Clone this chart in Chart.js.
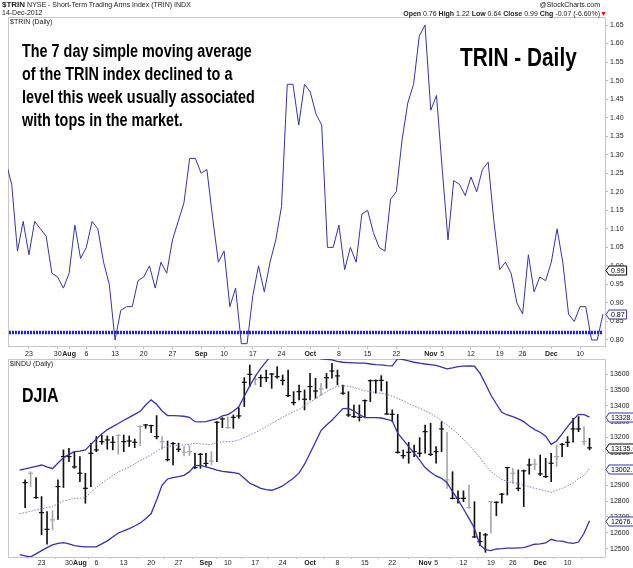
<!DOCTYPE html>
<html>
<head>
<meta charset="utf-8">
<script src="https://cdn.jsdelivr.net/npm/chart.js@4.4.1/dist/chart.umd.min.js"></script>
<style>
  body { margin: 0; background: #fff; width: 633px; height: 568px; overflow: hidden; position: relative;
         font-family: "Liberation Sans", Arial, sans-serif; }
  canvas { position: absolute; left: 0; }
  #trinChart { top: 0; }
  #djiaChart { top: 346px; }
  .txt { position: absolute; white-space: nowrap; color: #000; }
  .small { font-size: 7px; color: #222; }
  .note { font-family: "Liberation Sans", Arial, sans-serif; font-weight: bold;
          transform: scaleX(0.8); transform-origin: 0 0; }
</style>
</head>
<body>
<canvas id="trinChart" width="633" height="360"></canvas>
<canvas id="djiaChart" width="633" height="222"></canvas>

<div class="txt small" style="left:2px;top:0px"><b style="font-size:8px">$TRIN</b> NYSE - Short-Term Trading Arms Index (TRIN) INDX</div>
<div class="txt small" style="left:2px;top:9px">14-Dec-2012</div>
<div class="txt small" style="right:33px;top:1px">@StockCharts.com</div>
<div class="txt small" style="right:26px;top:10px"><b>Open</b> 0.76 <b>High</b> 1.22 <b>Low</b> 0.64 <b>Close</b> 0.99 <b>Chg</b> -0.07 (-6.60%)<span style="color:#d00">&#9660;</span></div>
<div class="txt small" style="left:10px;top:18px">$TRIN (Daily)</div>
<div class="txt small" style="left:10px;top:360px">$INDU (Daily)</div>

<div class="txt note" style="left:22px;top:40px;font-size:18px;line-height:23px">
The 7 day simple moving average<br>of the TRIN index declined to a<br>level this week usually associated<br>with tops in the market.</div>
<div class="txt note" style="left:460px;top:42px;font-size:26px">TRIN - Daily</div>
<div class="txt note" style="left:22px;top:384px;font-size:20px">DJIA</div>

<script>
// trading days shown (Jul 17 sits just off the left edge)
const dates = [
  'Jul 17','Jul 18','Jul 19','Jul 20','Jul 23','Jul 24','Jul 25','Jul 26','Jul 27','Jul 30','Jul 31',
  'Aug 1','Aug 2','Aug 3','Aug 6','Aug 7','Aug 8','Aug 9','Aug 10','Aug 13','Aug 14','Aug 15','Aug 16','Aug 17',
  'Aug 20','Aug 21','Aug 22','Aug 23','Aug 24','Aug 27','Aug 28','Aug 29','Aug 30','Aug 31',
  'Sep 4','Sep 5','Sep 6','Sep 7','Sep 10','Sep 11','Sep 12','Sep 13','Sep 14','Sep 17','Sep 18','Sep 19',
  'Sep 20','Sep 21','Sep 24','Sep 25','Sep 26','Sep 27','Sep 28',
  'Oct 1','Oct 2','Oct 3','Oct 4','Oct 5','Oct 8','Oct 9','Oct 10','Oct 11','Oct 12','Oct 15','Oct 16',
  'Oct 17','Oct 18','Oct 19','Oct 22','Oct 23','Oct 24','Oct 25','Oct 26','Oct 31',
  'Nov 1','Nov 2','Nov 5','Nov 6','Nov 7','Nov 8','Nov 9','Nov 12','Nov 13','Nov 14','Nov 15','Nov 16',
  'Nov 19','Nov 20','Nov 21','Nov 23','Nov 26','Nov 27','Nov 28','Nov 29','Nov 30',
  'Dec 3','Dec 4','Dec 5','Dec 6','Dec 7','Dec 10','Dec 11','Dec 12','Dec 13','Dec 14'
];

// x axis labels
const tickDates = ['Jul 23','Jul 30','Aug 1','Aug 6','Aug 13','Aug 20','Aug 27','Sep 4','Sep 10','Sep 17','Sep 24',
  'Oct 1','Oct 8','Oct 15','Oct 22','Nov 1','Nov 5','Nov 12','Nov 19','Nov 26','Dec 3','Dec 10'];
const tickText = ['23','30','Aug','6','13','20','27','Sep','10','17','24',
  'Oct','8','15','22','Nov','5','12','19','26','Dec','10'];
const monthText = ['Aug','Sep','Oct','Nov','Dec'];

// TRIN (7 day SMA)
const trin = [
  1.28, 1.22, 1.04, 1.12, 1.03, 1.12, 1.10, 1.08, 0.98, 0.97, 0.94,
  0.98, 1.11, 1.02, 1.05, 1.12, 1.10, 1.01, 0.95, 0.80, 0.88, 0.89, 0.89, 0.96,
  0.97, 1.00, 0.94, 1.01, 0.98, 1.07, 1.12, 1.17, 1.29, 1.29,
  1.25, 1.26, 1.13, 1.01, 1.04, 0.89, 0.94, 0.79, 0.79, 0.92, 1.00, 0.93,
  1.01, 1.07, 1.16, 1.49, 1.49, 1.38, 1.49,
  1.47, 1.41, 1.38, 1.05, 1.05, 1.11, 0.99, 1.05, 1.01, 1.14, 1.15, 1.09,
  1.05, 1.04, 1.18, 1.20, 1.34, 1.44, 1.49, 1.62, 1.65,
  1.42, 1.46, 1.26, 1.07, 1.23, 1.22, 1.19, 1.24, 1.20, 1.26, 1.28, 1.12,
  0.99, 1.01, 0.98, 0.90, 0.87, 1.03, 0.93, 0.97, 0.96,
  1.01, 1.10, 1.01, 0.87, 0.85, 0.89, 0.89, 0.80, 0.80, 0.87
];
const trinSignal = 0.82;
const trinClose = 0.99;
const trinTicks = [0.80, 0.85, 0.90, 0.95, 1.00, 1.05, 1.10, 1.15, 1.20, 1.25, 1.30, 1.35, 1.40, 1.45, 1.50, 1.55, 1.60, 1.65];

// DJIA daily bars
const djiaHigh = [
  null, 12933, 12985, 12948, 12828, 12733, 12740, 12933, 13122, 13132, 13111,
  13080, 12975, 13164, 13206, 13216, 13210, 13206, 13216, 13216, 13210, 13191, 13275, 13283,
  13279, 13338, 13206, 13178, 13170, 13164, 13143, 13149, 13101, 13101,
  13101, 13111, 13300, 13325, 13331, 13342, 13388, 13577, 13657, 13594, 13594, 13625,
  13604, 13646, 13594, 13625, 13489, 13531, 13500,
  13604, 13573, 13542, 13604, 13667, 13625, 13531, 13489, 13405, 13405, 13437, 13563,
  13563, 13590, 13552, 13374, 13346, 13122, 13170, 13153, 13199,
  13279, 13290, 13143, 13300, 13233, 12985, 12864, 12864, 12901, 12796, 12603, 12597,
  12796, 12796, 12849, 13011, 13006, 12996, 12996, 13065, 13065,
  13090, 13069, 13101, 13153, 13164, 13206, 13321, 13332, 13269, 13195
];
const djiaLow = [
  null, 12759, 12891, 12817, 12587, 12528, 12618, 12685, 12885, 13048, 13006,
  12922, 12786, 12891, 13111, 13157, 13126, 13122, 13095, 13111, 13143, 13136, 13149, 13258,
  13231, 13191, 13126, 13052, 13027, 13111, 13084, 13086, 13006, 13006,
  13016, 13027, 13048, 13262, 13258, 13258, 13321, 13395, 13520, 13531, 13520, 13552,
  13510, 13573, 13531, 13458, 13405, 13437, 13374,
  13437, 13447, 13464, 13510, 13573, 13531, 13472, 13332, 13325, 13304, 13325, 13426,
  13479, 13493, 13346, 13300, 13101, 13069, 13038, 13080, 13080,
  13101, 13086, 13038, 13111, 12880, 12813, 12786, 12796, 12754, 12570, 12519, 12477,
  12597, 12708, 12786, 12838, 12912, 12864, 12765, 12969, 12996,
  12960, 12948, 12922, 13017, 13080, 13143, 13170, 13237, 13153, 13122
];
const djiaClose = [
  null, 12916, 12975, 12822, 12727, 12622, 12681, 12891, 13080, 13080, 13015,
  12975, 12880, 13101, 13122, 13174, 13185, 13170, 13214, 13174, 13178, 13170, 13269, 13279,
  13275, 13206, 13174, 13061, 13162, 13126, 13107, 13111, 13010, 13094,
  13037, 13052, 13296, 13317, 13262, 13327, 13336, 13548, 13598, 13567, 13577, 13577,
  13600, 13583, 13560, 13464, 13420, 13489, 13441,
  13521, 13493, 13506, 13577, 13619, 13588, 13479, 13342, 13332, 13327, 13432, 13558,
  13558, 13560, 13348, 13346, 13107, 13086, 13107, 13111, 13101,
  13237, 13094, 13111, 13254, 12933, 12817, 12817, 12817, 12759, 12574, 12545, 12587,
  12796, 12792, 12843, 13011, 12975, 12880, 12990, 13027, 13032,
  12971, 12954, 13038, 13080, 13157, 13170, 13254, 13254, 13174, 13135.01
];

// Bollinger bands (20,2)
const bbUpper = [
  12995, 13002, 13011, 13019, 13027, 13015, 13004, 13040, 13073, 13094, 13111,
  13115, 13122, 13157, 13191, 13223, 13250, 13269, 13288, 13309, 13327, 13346, 13365, 13405,
  13437, 13409, 13367, 13338, 13338, 13336, 13334, 13327, 13300, 13298,
  13300, 13309, 13317, 13336, 13344, 13365, 13393, 13460, 13525, 13584, 13636, 13678,
  13720, 13750, 13770, 13780, 13780, 13770, 13755,
  13735, 13712, 13695, 13693, 13689, 13680, 13674, 13672, 13670, 13668, 13668, 13663,
  13659, 13657, 13653, 13651, 13697, 13691, 13682, 13674, 13668,
  13663, 13659, 13655, 13644, 13632, 13638, 13647, 13649, 13651, 13649, 13605, 13539,
  13468, 13411, 13359, 13342, 13332, 13317, 13300, 13273, 13250,
  13233, 13208, 13157, 13178, 13223, 13269, 13311, 13346, 13344, 13328.63
];
const bbMiddle = [
  12720, 12727, 12736, 12744, 12750, 12759, 12765, 12784, 12801, 12809, 12817,
  12817, 12822, 12855, 12887, 12912, 12937, 12960, 12983, 12998, 13013, 13034, 13055, 13073,
  13090, 13115, 13136, 13143, 13149, 13151, 13153, 13157, 13164, 13160,
  13157, 13155, 13170, 13172, 13174, 13176, 13185, 13199, 13216, 13231, 13248, 13269,
  13290, 13309, 13327, 13346, 13363, 13378, 13401,
  13422, 13445, 13468, 13489, 13508, 13521, 13527, 13523, 13516, 13504, 13495, 13489,
  13483, 13479, 13472, 13460, 13447, 13432, 13414, 13397, 13384,
  13369, 13351, 13330, 13307, 13279, 13252, 13223, 13187, 13151, 13115, 13073, 13027,
  12985, 12960, 12935, 12922, 12916, 12910, 12899, 12891, 12880,
  12872, 12864, 12855, 12868, 12880, 12895, 12912, 12941, 12960, 13002.39
];
const bbLower = [
  12462, 12454, 12448, 12467, 12488, 12507, 12524, 12534, 12538, 12530, 12519,
  12515, 12511, 12511, 12511, 12530, 12549, 12574, 12599, 12612, 12626, 12643, 12662, 12689,
  12721, 12807, 12901, 12939, 12948, 12954, 12962, 12985, 13023, 13025,
  13015, 13006, 12994, 12987, 12983, 12979, 12973, 12943, 12912, 12897, 12880, 12872,
  12868, 12880, 12895, 12920, 12945, 12977, 13032,
  13101, 13172, 13244, 13279, 13309, 13346, 13382, 13384, 13367, 13344, 13325, 13325,
  13325, 13323, 13315, 13306, 13227, 13185, 13143, 13103, 13057,
  13011, 12981, 12958, 12943, 12916, 12859, 12809, 12750, 12691, 12629, 12524, 12494,
  12488, 12498, 12500, 12503, 12503, 12505, 12507, 12517, 12528,
  12530, 12536, 12559, 12549, 12547, 12538, 12534, 12542, 12597, 12676.16
];
const djiaTicks = [12500, 12600, 12700, 12800, 12900, 13000, 13100, 13200, 13300, 13400, 13500, 13600];

// bars drawn in light grey
const lightBars = ['Jul 19','Jul 25','Aug 10','Aug 16','Aug 22','Aug 28','Aug 29','Sep 5','Sep 10','Sep 17',
  'Oct 3','Nov 7','Nov 13','Nov 19','Nov 26','Nov 30','Dec 6','Dec 13'];

const FONT = 'Liberation Sans';
const BAND = '#3434a4';

const pts = arr => arr.map((v, i) => ({ x: i, y: v }));

function xAxis(height, tickLen, pad) {
  return {
    type: 'linear', min: 0.355, max: 104.35,
    afterBuildTicks: s => { s.ticks = tickDates.map(d => ({ value: dates.indexOf(d) })); },
    afterFit: s => { s.height = height; },
    ticks: {
      autoSkip: false, maxRotation: 0, padding: pad, color: '#222',
      callback: v => tickText[tickDates.indexOf(dates[v])],
      font: c => ({ family: FONT, size: 7,
        weight: c.tick && monthText.includes(tickText[tickDates.indexOf(dates[c.tick.value])]) ? 'bold' : 'normal' })
    },
    grid: { drawOnChartArea: false, tickLength: tickLen, color: '#bbb' },
    border: { display: false }
  };
}

function yAxis(min, max, ticks, digits) {
  return {
    position: 'right', min: min, max: max,
    afterBuildTicks: s => { s.ticks = ticks.map(v => ({ value: v })); },
    afterFit: s => { s.width = 28; },
    ticks: { color: '#222', padding: 2, font: { family: FONT, size: 7 }, callback: v => v.toFixed(digits) },
    grid: { drawOnChartArea: false, tickLength: 3, color: '#bbb' },
    border: { display: false }
  };
}

// thin frame round the plot area
const frame = {
  id: 'frame',
  beforeDatasetsDraw(chart) {
    const a = chart.chartArea, ctx = chart.ctx;
    ctx.save();
    ctx.strokeStyle = '#c8c8c8';
    ctx.lineWidth = 1;
    ctx.strokeRect(Math.round(a.left) + 0.5, Math.round(a.top) + 0.5, a.width, a.height);
    ctx.restore();
  }
};

// last-value tags on the right axis
const valueTags = {
  id: 'valueTags',
  afterDraw(chart, args, opts) {
    const ctx = chart.ctx, y = chart.scales.y, x0 = chart.chartArea.right + 1;
    ctx.save();
    ctx.font = '7px "' + FONT + '"';
    ctx.textBaseline = 'middle';
    opts.items.forEach(it => {
      const py = Math.round(y.getPixelForValue(it.value)) + 0.5;
      const w = ctx.measureText(it.text).width + 4;
      ctx.beginPath();
      ctx.moveTo(x0, py);
      ctx.lineTo(x0 + 3, py - 4.5);
      ctx.lineTo(x0 + 3 + w, py - 4.5);
      ctx.lineTo(x0 + 3 + w, py + 4.5);
      ctx.lineTo(x0 + 3, py + 4.5);
      ctx.closePath();
      ctx.fillStyle = '#fff';
      ctx.fill();
      ctx.strokeStyle = it.color;
      ctx.lineWidth = 1;
      ctx.stroke();
      ctx.fillStyle = '#000';
      ctx.fillText(it.text, x0 + 5, py + 0.5);
    });
    ctx.restore();
  }
};

new Chart(document.getElementById('trinChart'), {
  type: 'line',
  data: {
    datasets: [
      { data: pts(trin), borderColor: '#35359d', borderWidth: 1, pointRadius: 0, tension: 0 },
      { data: pts(trin.map(() => trinSignal)), borderColor: '#1a1aff', borderWidth: 3.5,
        borderDash: [2, 1], pointRadius: 0 }
    ]
  },
  options: {
    responsive: false, animation: false, events: [],
    layout: { padding: { left: 8, top: 17, right: 0, bottom: 0 } },
    scales: { x: xAxis(14, 3, 1), y: yAxis(0.7838, 1.6716, trinTicks, 2) },
    plugins: {
      legend: { display: false }, tooltip: { enabled: false },
      valueTags: { items: [
        { value: trinClose, text: trinClose.toFixed(2), color: '#000' },
        { value: trin[trin.length - 1], text: trin[trin.length - 1].toFixed(2), color: '#35359d' }
      ] }
    }
  },
  plugins: [frame, valueTags]
});

const barTone = c => lightBars.includes(dates[c.dataIndex]) ? '#a8a8a8' : '#111';
const last = a => a[a.length - 1];

new Chart(document.getElementById('djiaChart'), {
  data: {
    datasets: [
      { type: 'line', data: pts(bbUpper), borderColor: BAND, borderWidth: 1.3, pointRadius: 0 },
      { type: 'line', data: pts(bbMiddle), borderColor: '#7a7ad0', borderWidth: 1, borderDash: [1.5, 1.5], pointRadius: 0 },
      { type: 'line', data: pts(bbLower), borderColor: BAND, borderWidth: 1.3, pointRadius: 0 },
      { type: 'bar', data: djiaHigh.map((h, i) => ({ x: i, y: h === null ? null : [djiaLow[i], h] })),
        backgroundColor: barTone, barThickness: 1, grouped: false },
      { type: 'line', data: pts(djiaClose), showLine: false, pointStyle: 'line', pointRadius: 2.5,
        pointBorderWidth: 1.2, pointBorderColor: barTone }
    ]
  },
  options: {
    responsive: false, animation: false, events: [],
    layout: { padding: { left: 8, top: 13, right: 0, bottom: 0 } },
    scales: { x: xAxis(11, 2, 0), y: yAxis(12447.6, 13694.5, djiaTicks, 0) },
    plugins: {
      legend: { display: false }, tooltip: { enabled: false },
      valueTags: { items: [
        { value: last(bbUpper), text: last(bbUpper).toFixed(2), color: BAND },
        { value: last(djiaClose), text: last(djiaClose).toFixed(2), color: '#000' },
        { value: last(bbMiddle), text: last(bbMiddle).toFixed(2), color: BAND },
        { value: last(bbLower), text: last(bbLower).toFixed(2), color: BAND }
      ] }
    }
  },
  plugins: [frame, valueTags]
});
</script>
</body>
</html>
